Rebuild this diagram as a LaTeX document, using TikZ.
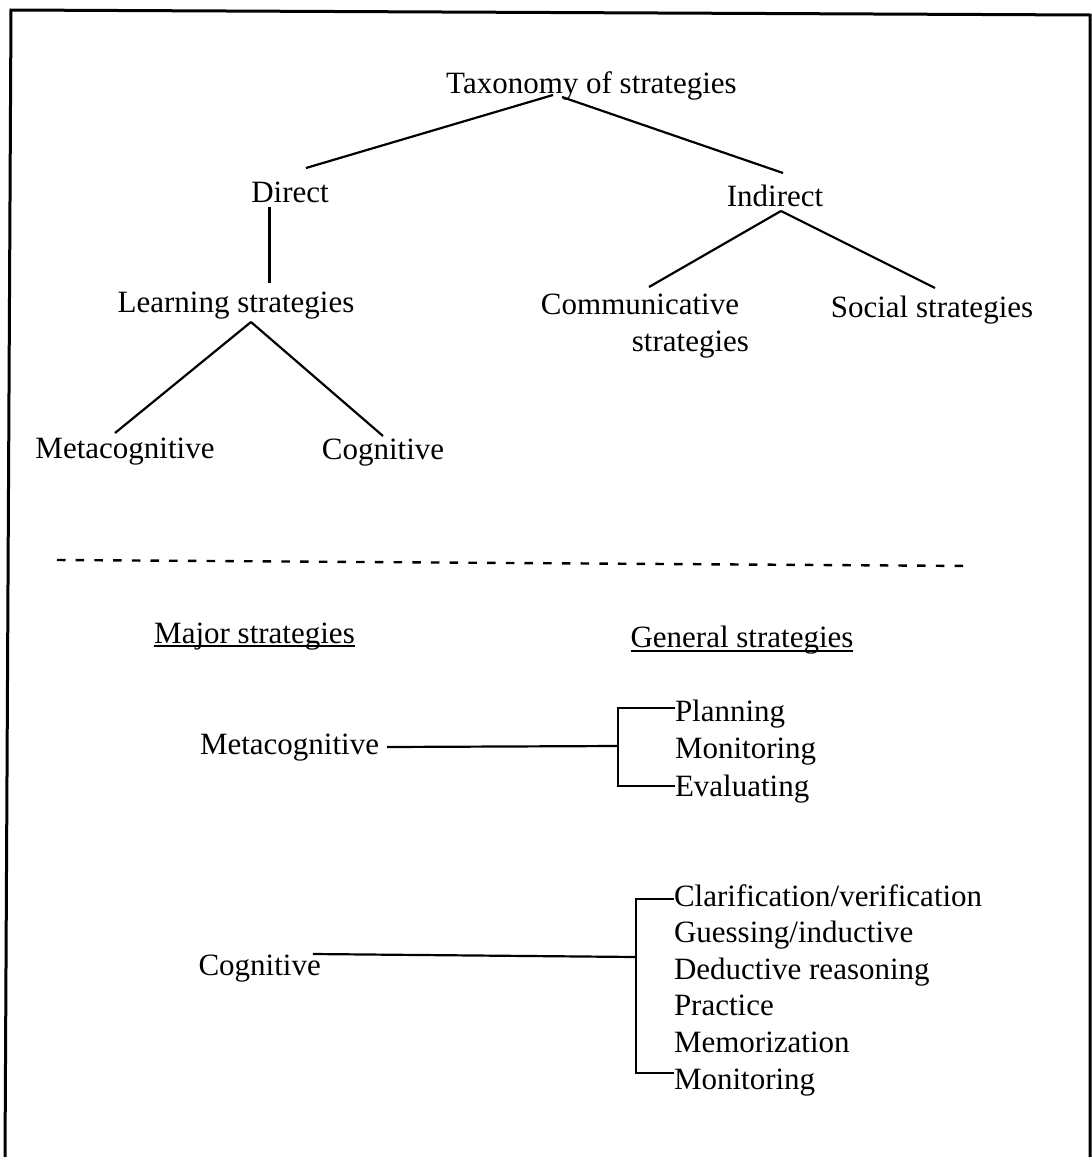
\documentclass[tikz,border=0pt]{standalone}
\usepackage{fontspec}
\setmainfont{Liberation Serif}
\begin{document}
\begin{tikzpicture}[x=1pt,y=-1pt,
  every node/.style={inner sep=0pt, outer sep=0pt, font=\fontsize{31}{37}\selectfont},
  lbl/.style={text height=21pt, text depth=7pt},
  link/.style={line width=2.2pt},
  frame/.style={line width=3pt},
  uline/.style={line width=1.8pt},
  sep/.style={line width=2.4pt, dash pattern=on 8.5pt off 10.2pt}]
\useasboundingbox (0,0) rectangle (1092,1157);

% outer frame, open at the bottom
\draw[frame] (5,1160) -- (11,10) -- (1090,15) -- (1090,1160);

% ---------- taxonomy tree ----------
\node[lbl, anchor=base] (tax) at (591.5,93) {Taxonomy of strategies};
\node[lbl, anchor=base] (direct) at (290,202) {Direct};
\node[lbl, anchor=base] (indirect) at (775,206) {Indirect};
\node[lbl, anchor=base] (learn) at (236,312) {Learning strategies};
\node[anchor=north east, align=right] (comm) at (749,294) {Communicative\hspace*{10pt}\\strategies};
\node[lbl, anchor=base] (social) at (932,317) {Social strategies};
\node[lbl, anchor=base] (meta1) at (125,458) {Metacognitive};
\node[lbl, anchor=base] (cog1) at (383,459) {Cognitive};

\draw[link] ([xshift=-38.5pt,yshift=5pt]tax.south) -- ([xshift=16pt,yshift=13pt]direct.north);
\draw[link] ([xshift=-29.5pt,yshift=3pt]tax.south) -- ([xshift=8pt,yshift=12pt]indirect.north);
\draw[link] ([xshift=-20.5pt,yshift=2pt]direct.south) -- ([xshift=33.5pt,yshift=8pt]learn.north);
\draw[link] ([xshift=15pt,yshift=-3pt]learn.south) -- ([xshift=-10pt,yshift=4pt]meta1.north);
\draw[link] ([xshift=15pt,yshift=-3pt]learn.south) -- ([yshift=2pt]cog1.north);
\draw[link] ([xshift=6pt,yshift=2pt]indirect.south) -- ([xshift=4pt,yshift=7pt]comm.north);
\draw[link] ([xshift=6pt,yshift=2pt]indirect.south) -- ([xshift=3pt,yshift=8pt]social.north);

% ---------- separator ----------
\coordinate (dashL) at (57,560);
\coordinate (dashR) at (972,566);
\draw[sep] (dashL) -- (dashR);

% ---------- strategy table ----------
\node[lbl, anchor=base] (major) at (254.5,643) {Major strategies};
\node[lbl, anchor=base] (general) at (742,647) {General strategies};
\draw[uline] ([yshift=-3pt]major.base west) -- ([yshift=-3pt]major.base east);
\draw[uline] ([yshift=-4pt]general.base west) -- ([yshift=-4pt]general.base east);

\node[lbl, anchor=base west] (meta2) at (200,754) {Metacognitive};
\node[lbl, anchor=base west] (plan) at (675,721) {Planning};
\node[lbl, anchor=base west] (mon1) at (675,758) {Monitoring};
\node[lbl, anchor=base west] (eval) at (675,796) {Evaluating};
\coordinate (mjoin) at (618,746);
\draw[link] ([xshift=8pt]meta2.east) -- (mjoin);
\draw[link] ([yshift=6pt]plan.west) -| (mjoin) |- ([yshift=3pt]eval.west);

\node[lbl, anchor=base west] (cog2) at (198.5,975) {Cognitive};
\node[lbl, anchor=base west] (clar) at (674,906) {Clarification/verification};
\node[lbl, anchor=base west] (guess) at (674,942) {Guessing/inductive};
\node[lbl, anchor=base west] (deduc) at (674,979) {Deductive reasoning};
\node[lbl, anchor=base west] (pract) at (674,1015) {Practice};
\node[lbl, anchor=base west] (memo) at (674,1052) {Memorization};
\node[lbl, anchor=base west] (mon2) at (674,1089) {Monitoring};
\coordinate (cjoin) at (636,957);
\draw[link] ([xshift=-8pt]cog2.north east) -- (cjoin);
\draw[link] (clar.west) -| (cjoin) |- ([yshift=9pt]mon2.west);
\end{tikzpicture}
\end{document}
